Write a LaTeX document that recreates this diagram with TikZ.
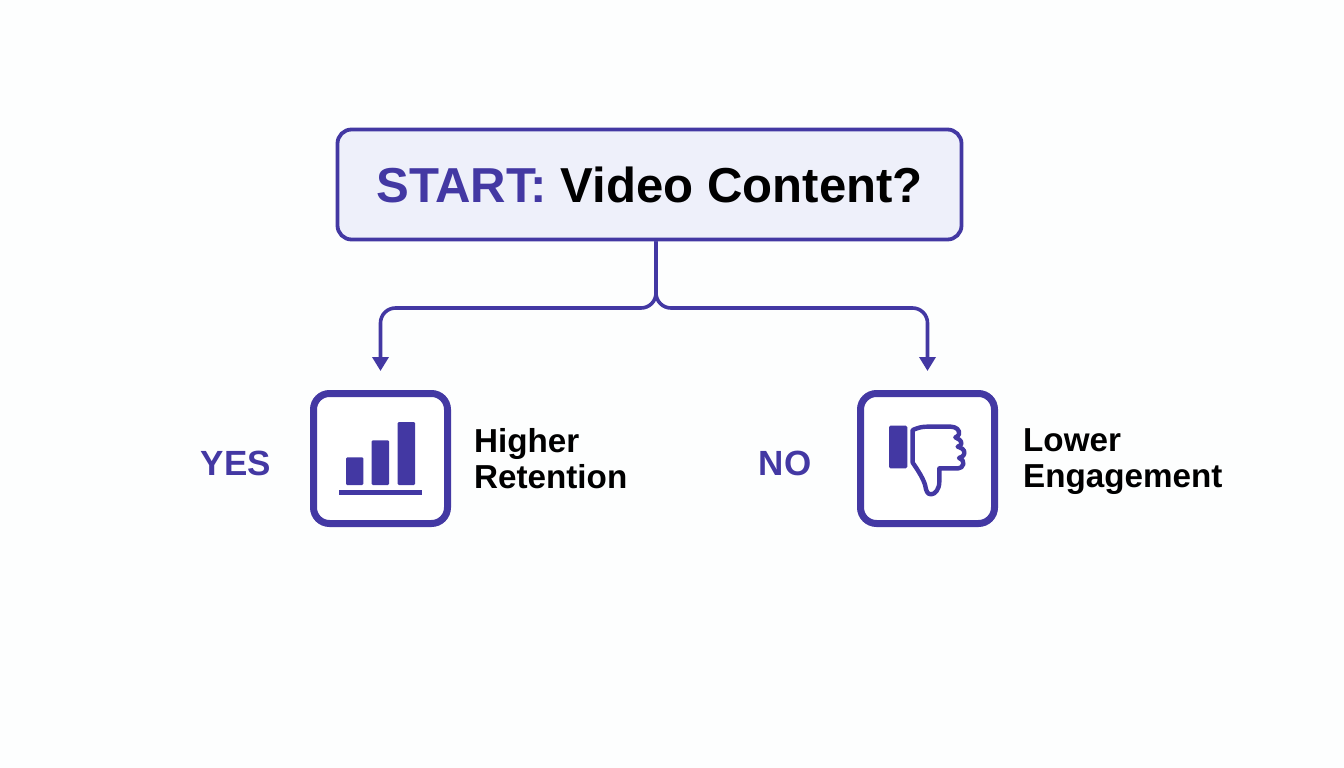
\documentclass[tikz,border=0pt]{standalone}
\usepackage{fontspec}
\setmainfont{Liberation Sans}
\usetikzlibrary{arrows.meta}
\definecolor{ink}{HTML}{4338A3}
\definecolor{panel}{HTML}{EEF0FA}
\definecolor{paper}{HTML}{FDFEFE}
\newcommand{\gdepth}{\vphantom{g}}
\tikzset{
  startbox/.style={draw=ink,fill=panel,line width=3.8pt,rounded corners=14pt,minimum width=624pt,minimum height=110pt,inner sep=0pt,font=\bfseries\fontsize{49.1}{54}\selectfont},
  iconbox/.style={draw=ink,fill=white,line width=7pt,rounded corners=16pt,minimum width=134pt,minimum height=130pt,inner sep=0pt},
  answer/.style={text=ink,inner sep=0pt,font=\bfseries\fontsize{35}{40}\selectfont},
  result/.style={anchor=west,align=left,inner sep=0pt,text=black,font=\bfseries\fontsize{33.2}{36}\selectfont},
  link/.style={draw=ink,line width=3.6pt,rounded corners=15pt,-{Triangle[width=16pt,length=14pt]}},
  bar/.style={fill=ink,rounded corners=1.2pt}
}
\begin{document}
\begin{tikzpicture}[x=1pt,y=-1pt]
\useasboundingbox (0,0) rectangle (1344,768);
\fill[paper] (0,0) rectangle (1344,768);
\node[startbox] (start) at (649.5,184.5) {\textcolor{ink}{START:} Video Content?};
\node[iconbox] (yesbox) at (380.5,458.5) {};
\node[iconbox] (nobox) at (927.5,458.5) {};
\node[answer] (yes) at (236,463) {YES};
\node[answer] (no) at (785,463) {NO};
\node[result] (higher) at (474,461.5) {Higher\gdepth\\Retention\gdepth};
\node[result] (lower) at (1023,461.5) {Lower\gdepth\\Engagement\gdepth};
\coordinate (yestip) at (380.5,371);
\coordinate (notip) at (927.5,371);
\coordinate (join) at (656,308);
\draw[link] (start.south -| join) -- (join) -- (yestip |- join) -- (yestip);
\draw[link] (start.south -| join) -- (join) -- (notip |- join) -- (notip);
% bar chart icon
\fill[bar] (346,457.3) rectangle (363.3,485);
\fill[bar] (371.7,440.3) rectangle (389,485);
\fill[bar] (397.7,422) rectangle (415,485);
\fill[ink] (339,490.3) rectangle (421.7,494.7);
% thumb icon
\begin{scope}[shift={(850,380)},x=0.33333pt,y=-0.33333pt]
\fill[ink,rounded corners=1.5pt] (117,137) rectangle (172,265);
\draw[ink,line width=4.4pt,line join=round]
 (188,150) .. controls (205,143) and (215,140) .. (232,140)
 -- (302,140) .. controls (318,140) and (330,150) .. (327,163)
 .. controls (324,170) and (318,170) .. (316,172)
 .. controls (322,176) and (336,180) .. (334,192)
 .. controls (332,198) and (326,198) .. (323,200)
 .. controls (332,203) and (345,208) .. (343,220)
 .. controls (341,230) and (332,232) .. (327,234)
 .. controls (336,238) and (343,244) .. (340,252)
 .. controls (338,260) and (332,265) .. (325,265)
 -- (268,265) -- (268,305)
 .. controls (268,328) and (255,343) .. (243,343)
 .. controls (232,343) and (228,332) .. (226,318)
 .. controls (222,300) and (205,272) .. (188,248)
 -- cycle;
\end{scope}
\end{tikzpicture}
\end{document}
